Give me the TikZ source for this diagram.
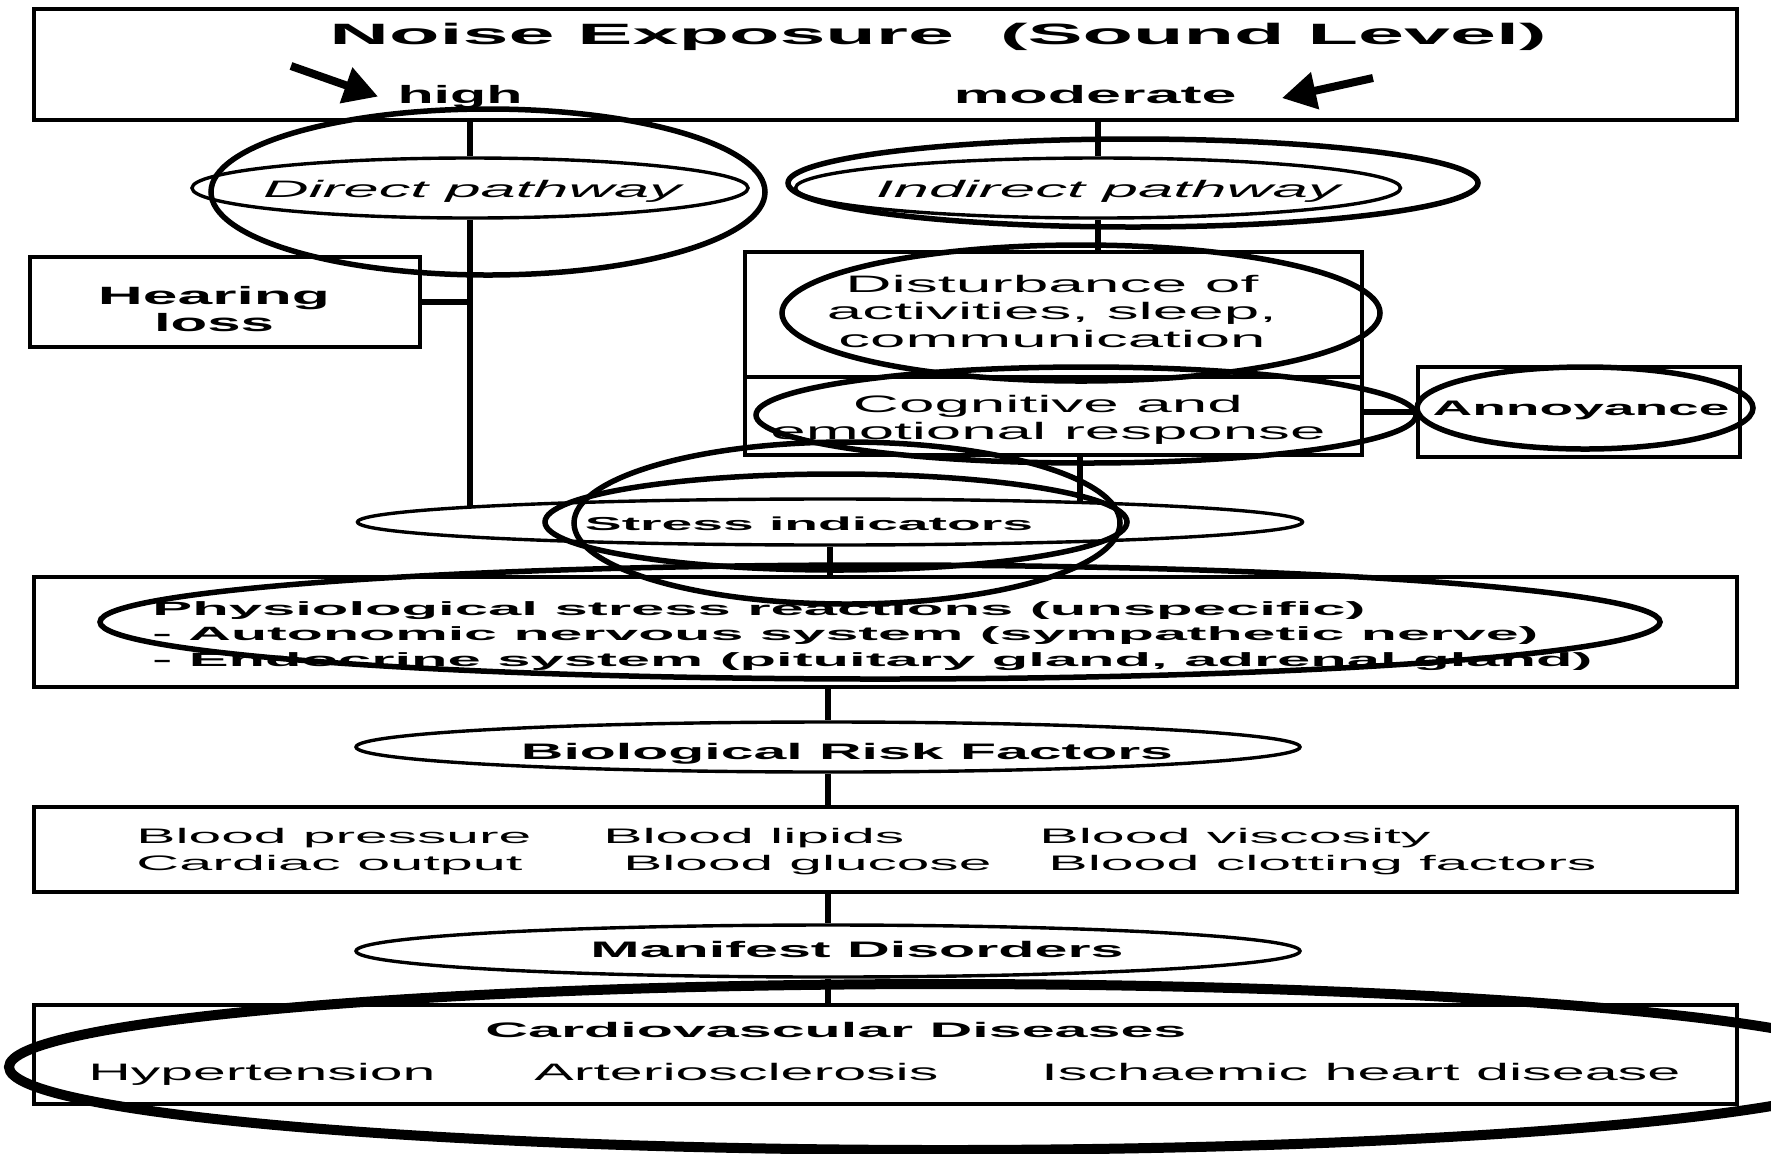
\documentclass[tikz,border=0pt]{standalone}
\usepackage{fontspec}
\setmainfont{Liberation Sans}
\usepackage{graphicx}
\usetikzlibrary{arrows.meta,shapes.geometric,calc}
\pgfdeclarelayer{bg}
\pgfsetlayers{bg,main}
\newcommand\rs[2]{\resizebox{\dimexpr #1pt/2\relax}{\height}{#2}}
\newcommand\fs[2]{\fontsize{#1}{#2}\selectfont}
\begin{document}
\begin{tikzpicture}[x=0.5pt,y=-0.5pt,
  box/.style={draw, line width=1.6pt, fill=white, inner sep=0pt, rectangle},
  jag/.style={draw, line width=1.7pt, fill=white, ellipse, inner sep=0pt},
  conn/.style={line width=2.75pt},
  ring/.style={line width=2.75pt},
  txt/.style={inner sep=0pt, anchor=base},
  ltxt/.style={inner sep=0pt, anchor=base west},
  bigarrow/.style={line width=4pt, -{Triangle[length=17pt,width=18pt]}}
]
\useasboundingbox (0,0) rectangle (1771,1153);
\begin{pgfonlayer}{bg}
\fill[white] (0,0) rectangle (1771,1153);
\end{pgfonlayer}

% boxes
\node[box, minimum width=851.5pt, minimum height=55.5pt] (top) at (885.5,64.5) {};
\node[box, minimum width=195pt, minimum height=45pt] (hl) at (225,302) {};
\node[box, minimum width=308.5pt, minimum height=62.5pt] (db) at (1053.5,314.5) {};
\node[box, minimum width=308.5pt, minimum height=39pt] (cg) at (1053.5,416) {};
\node[box, minimum width=161pt, minimum height=45pt] (an) at (1579,412) {};
\node[box, minimum width=851.5pt, minimum height=55pt] (ph) at (885.5,632) {};
\node[box, minimum width=851.5pt, minimum height=42.5pt] (rf) at (885.5,849.5) {};
\node[box, minimum width=851.5pt, minimum height=49.5pt] (cd) at (885.5,1054.5) {};

% pathway ellipses
\node[jag, minimum width=278pt, minimum height=30pt] (dp) at (470,188) {};
\node[jag, minimum width=302.5pt, minimum height=30pt] (ip) at (1098,188) {};
\node[jag, minimum width=472.5pt, minimum height=23pt] (si) at (830,522) {};
\node[jag, minimum width=472pt, minimum height=25pt] (br) at (828,747) {};
\node[jag, minimum width=472pt, minimum height=26pt] (md) at (828,951) {};

% connectors
\begin{pgfonlayer}{bg}
\draw[conn] (dp.center |- top.south) -- (dp.north);
\draw[conn] (dp.south) -- (dp.south |- si.center);
\draw[conn] (hl.east) -- (hl.east -| dp.south);
\draw[conn] (ip.center |- top.south) -- (ip.north);
\draw[conn] (ip.south) -- (ip.south |- db.north);
\draw[conn] ([xshift=13.25pt]cg.south) -- ([xshift=13.25pt]cg.south |- si.center);
\draw[conn] (an.west) -- (an.west -| cg.east);
\draw[conn] (si.south) -- (si.south |- ph.north);
\draw[conn] (br.center |- ph.south) -- (br.north);
\draw[conn] (br.south) -- (br.south |- rf.north);
\draw[conn] (md.center |- rf.south) -- (md.north);
\draw[conn] (md.south) -- (md.south |- cd.north);
\end{pgfonlayer}

% texts
\node[txt, font=\bfseries\fs{14.7}{17}] (title) at (938,44) {\rs{1217}{Noise Exposure~~(Sound Level)}};
\node[txt, font=\bfseries\fs{12.5}{15}] (high) at (460,103) {\rs{125}{high}};
\node[txt, font=\bfseries\fs{12.5}{15}] (mod) at (1095,103) {\rs{283}{moderate}};
\node[txt, font=\itshape\fs{11.9}{14}] (dpT) at (472,197) {\rs{418}{Direct pathway}};
\node[txt, font=\itshape\fs{11.9}{14}] (ipT) at (1108,197) {\rs{464}{Indirect pathway}};
\node[txt, font=\bfseries\fs{12.5}{13.5}] (hlT) at (214,304) {\begin{tabular}[t]{@{}c@{}}\rs{232}{Hearing}\\\rs{120}{loss}\end{tabular}};
\node[txt, font=\fs{11.9}{13.75}] (dbT) at (1052,292) {\begin{tabular}[t]{@{}c@{}}\rs{413}{Disturbance of}\\\rs{450}{activities, sleep,}\\\rs{427}{communication}\end{tabular}};
\node[txt, font=\fs{11.9}{13.75}] (cgT) at (1048,412) {\begin{tabular}[t]{@{}c@{}}\rs{390}{Cognitive and}\\\rs{555}{emotional response}\end{tabular}};
\node[txt, font=\bfseries\fs{10.5}{12}] (anT) at (1581,415) {\rs{297}{Annoyance}};
\node[txt, font=\bfseries\fs{9.4}{11}] (siT) at (809,530) {\rs{448}{Stress indicators}};
\node[ltxt, font=\bfseries\fs{9.6}{12.75}] (phT) at (152,615) {\begin{tabular}[t]{@{}l@{}}\rs{1213}{Physiological stress reactions (unspecific)}\\\rs{1386}{- Autonomic nervous system (sympathetic nerve)}\\\rs{1440}{- Endocrine system (pituitary gland, adrenal gland)}\end{tabular}};
\node[txt, font=\bfseries\fs{11.2}{13}] (brT) at (847,759) {\rs{652}{Biological Risk Factors}};
\node[ltxt, font=\fs{10.5}{12}] (rf1) at (136,843) {\rs{395}{Blood pressure}};
\node[ltxt, font=\fs{10.5}{12}] (rf2) at (136,870) {\rs{386}{Cardiac output}};
\node[ltxt, font=\fs{10.5}{12}] (rf3) at (603,843) {\rs{301}{Blood lipids}};
\node[ltxt, font=\fs{10.5}{12}] (rf4) at (623,870) {\rs{368}{Blood glucose}};
\node[ltxt, font=\fs{10.5}{12}] (rf5) at (1039,843) {\rs{391}{Blood viscosity}};
\node[ltxt, font=\fs{10.5}{12}] (rf6) at (1048,870) {\rs{548}{Blood clotting factors}};
\node[txt, font=\bfseries\fs{11.2}{13}] (mdT) at (857,957) {\rs{533}{Manifest Disorders}};
\node[txt, font=\bfseries\fs{10.5}{12}] (cdT) at (836,1037) {\rs{701}{Cardiovascular Diseases}};
\node[ltxt, font=\fs{11.9}{14}] (cd1) at (88,1080) {\rs{347}{Hypertension}};
\node[ltxt, font=\fs{11.9}{14}] (cd2) at (534,1080) {\rs{404}{Arteriosclerosis}};
\node[ltxt, font=\fs{11.9}{14}] (cd3) at (1041,1080) {\rs{639}{Ischaemic heart disease}};

% arrows
\coordinate (ha) at (291,66);
\draw[bigarrow] (ha) -- ([xshift=-9.5pt]high.west);
\coordinate (ma) at (1373,78);
\draw[bigarrow] (ma) -- ([xshift=22.5pt,yshift=-2pt]mod.east);

% highlight rings
\draw[ring] (488,192) ellipse [x radius=277, y radius=83];
\draw[ring] (1133,183) ellipse [x radius=345, y radius=44];
\draw[ring] (1081,313) ellipse [x radius=299, y radius=68];
\draw[ring] (1086,415) ellipse [x radius=330, y radius=48];
\draw[ring] (1585,408) ellipse [x radius=168, y radius=41];
\draw[ring] (836,522) ellipse [x radius=291, y radius=48];
\draw[ring] (847,523) ellipse [x radius=273, y radius=81];
\draw[ring] (880,622) ellipse [x radius=780, y radius=57];
\draw[line width=5pt] (945,1067) ellipse [x radius=936, y radius=83];
\end{tikzpicture}
\end{document}
